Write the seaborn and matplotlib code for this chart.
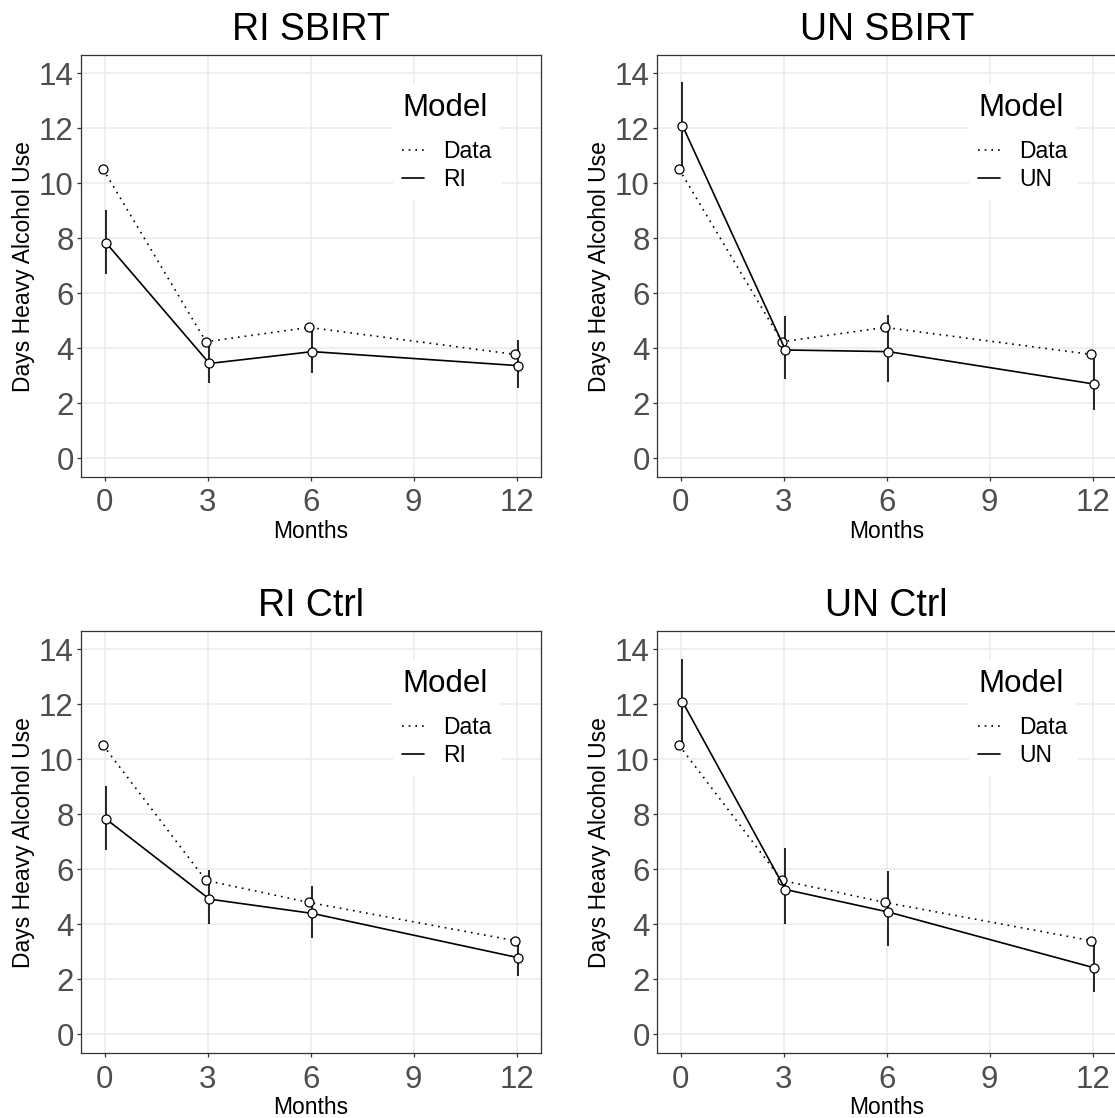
import numpy as np
import pandas as pd
import matplotlib
matplotlib.use("Agg")
import matplotlib.pyplot as plt
import seaborn as sns
from matplotlib.lines import Line2D

# ---------------- data ----------------
months = [0, 3, 6, 12]
x_ticks = [0, 3, 6, 9, 12]
y_ticks = [0, 2, 4, 6, 8, 10, 12, 14]

panel_titles = ["RI SBIRT", "UN SBIRT", "RI Ctrl", "UN Ctrl"]
model_names = ["RI", "UN", "RI", "UN"]

ri_sbirt_data = [10.52, 4.24, 4.76, 3.78]
ri_sbirt_est = [7.82, 3.45, 3.88, 3.37]
ri_sbirt_lo = [6.69, 2.73, 3.09, 2.57]
ri_sbirt_hi = [9.03, 4.24, 4.79, 4.30]

un_sbirt_data = [10.52, 4.24, 4.76, 3.78]
un_sbirt_est = [12.10, 3.94, 3.88, 2.70]
un_sbirt_lo = [10.53, 2.87, 2.76, 1.76]
un_sbirt_hi = [13.67, 5.18, 5.21, 3.64]

ri_ctrl_data = [10.52, 5.60, 4.80, 3.41]
ri_ctrl_est = [7.82, 4.92, 4.40, 2.79]
ri_ctrl_lo = [6.70, 4.00, 3.52, 2.13]
ri_ctrl_hi = [9.03, 5.98, 5.39, 3.55]

un_ctrl_data = [10.52, 5.60, 4.80, 3.41]
un_ctrl_est = [12.10, 5.27, 4.45, 2.42]
un_ctrl_lo = [10.53, 4.00, 3.22, 1.55]
un_ctrl_hi = [13.67, 6.79, 5.94, 3.53]

panel_data = [
    (ri_sbirt_data, ri_sbirt_est, ri_sbirt_lo, ri_sbirt_hi),
    (un_sbirt_data, un_sbirt_est, un_sbirt_lo, un_sbirt_hi),
    (ri_ctrl_data, ri_ctrl_est, ri_ctrl_lo, ri_ctrl_hi),
    (un_ctrl_data, un_ctrl_est, un_ctrl_lo, un_ctrl_hi),
]

# ---------------- style ----------------
sns.set_theme(style="white")
plt.rcParams["font.family"] = ["Liberation Sans", "DejaVu Sans"]
plt.rcParams["text.color"] = "black"
plt.rcParams["axes.labelcolor"] = "black"

W, H = 1115, 1118
fig = plt.figure(figsize=(W / 100, H / 100), dpi=100)


def rect(left, top, w, h):
    return [left / W, 1 - (top + h) / H, w / W, h / H]


positions = [(80.7, 54.9), (656.7, 54.9), (80.7, 631.0), (656.7, 631.0)]
pw, ph = 460.0, 422.4
dodge = 0.05
LW = 1.2

for title, mname, (dvals, est, lo, hi), (pl, pt) in zip(
        panel_titles, model_names, panel_data, positions):
    ax = fig.add_axes(rect(pl, pt, pw, ph))

    df = pd.DataFrame({
        "Months": np.concatenate([np.array(months) - dodge, np.array(months) + dodge]),
        "Value": np.concatenate([dvals, est]),
        "Model": ["Data"] * len(months) + [mname] * len(months),
    })

    # error bars for model estimates (under the points)
    ax.vlines(np.array(months) + dodge, lo, hi, color="black", lw=LW, zorder=1.5)

    sns.lineplot(data=df, x="Months", y="Value", style="Model",
                 style_order=["Data", mname],
                 dashes={"Data": (1, 3), mname: ""},
                 markers={"Data": "o", mname: "o"},
                 color="black", lw=LW, ms=6.5, mfc="white", mec="black",
                 mew=0.9, legend=False, ax=ax, zorder=2, sort=False)

    ax.set_xlim(-0.7, 12.7)
    ax.set_ylim(-0.69, 14.67)
    ax.set_xticks(x_ticks)
    ax.set_yticks(y_ticks)
    ax.grid(True, color="#EBEBEB", lw=1.1)
    ax.set_axisbelow(True)
    for s in ax.spines.values():
        s.set_color("#333333")
        s.set_linewidth(0.9)
    ax.tick_params(axis="both", length=3, width=0.9, color="#333333",
                   labelsize=22.5, labelcolor="#4D4D4D", bottom=True, left=True)
    ax.tick_params(axis="x", pad=5)
    ax.tick_params(axis="y", pad=2)
    ax.set_xlabel("Months", fontsize=16.5, color="black", labelpad=1)
    ax.set_ylabel("Days Heavy Alcohol Use", fontsize=16.5, color="black", labelpad=3)
    ax.set_title(title, fontsize=27, pad=11, color="black")

    handles = [Line2D([], [], color="black", lw=LW, dashes=(1, 3)),
               Line2D([], [], color="black", lw=LW)]
    leg = ax.legend(handles, ["Data", mname], title="Model", loc="upper left",
                    bbox_to_anchor=(0.679, 0.932), frameon=True, fontsize=16.5,
                    title_fontsize=22.5, handlelength=0.95, handletextpad=0.85,
                    labelspacing=0.2, borderpad=0.4, alignment="left",
                    borderaxespad=0)
    leg.get_title().set_color("black")
    for t in leg.get_texts():
        t.set_color("black")
    leg._legend_box.sep = 12.5
    leg.get_frame().set_facecolor("white")
    leg.get_frame().set_edgecolor("none")
    leg.get_frame().set_alpha(1)

fig.savefig("out.png", dpi=100)
